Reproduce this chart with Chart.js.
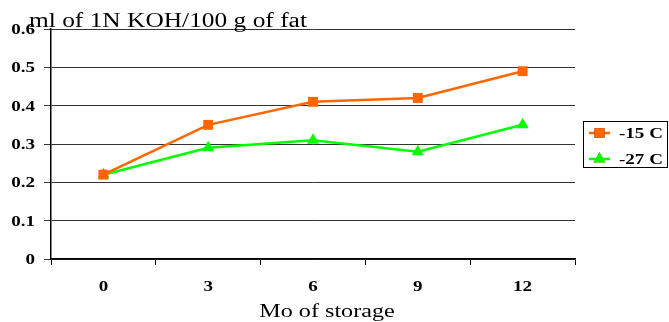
<!DOCTYPE html>
<html>
<head>
<meta charset="utf-8">
<script src="https://cdn.jsdelivr.net/npm/chart.js@4"></script>
<style>
  html, body { margin: 0; padding: 0; background: #fff; }
  #wrap { width: 669px; height: 322px; position: relative; }
</style>
</head>
<body>
<div id="wrap"><canvas id="chart"></canvas></div>
<script>
// Values
const months = ['0', '3', '6', '9', '12'];
const minus15 = [0.22, 0.35, 0.41, 0.42, 0.49];
const minus27 = [0.22, 0.29, 0.31, 0.28, 0.35];
const seriesLabels = ['-15 C', '-27 C'];
const yTicks = [0, 0.1, 0.2, 0.3, 0.4, 0.5, 0.6];
const yTitle = 'ml of 1N KOH/100 g of fat';
const xTitle = 'Mo of storage';

const serif = '"Liberation Serif", "Times New Roman", serif';
const stretch = 1.27; // the reference text is drawn wide

// draw text widened horizontally like the original picture
function wideText(ctx, text, x, y, align, font, baseline) {
    ctx.save();
    ctx.font = font;
    ctx.textBaseline = baseline || 'middle';
    ctx.fillStyle = '#000';
    const w = ctx.measureText(text).width * stretch;
    let left = x;
    if (align === 'center') left = x - w / 2;
    if (align === 'right') left = x - w;
    ctx.translate(left, y);
    ctx.scale(stretch, 1);
    ctx.textAlign = 'left';
    ctx.fillText(text, 0, 0);
    ctx.restore();
}

const extras = {
    id: 'extras',
    afterDraw(chart) {
        const ctx = chart.ctx;
        const xs = chart.scales.x;
        const ys = chart.scales.y;
        const tickFont = 'bold 15px ' + serif;

        // tick labels
        yTicks.forEach(v => {
            wideText(ctx, String(v), 35, ys.getPixelForValue(v) + 1, 'right', tickFont);
        });
        months.forEach((m, i) => {
            wideText(ctx, m, xs.getPixelForValue(i), 287, 'center', tickFont);
        });

        // axis titles
        wideText(ctx, yTitle, 29, 27, 'left', '20px ' + serif, 'alphabetic');
        wideText(ctx, xTitle, 327, 317, 'center', '19px ' + serif, 'alphabetic');

        // legend box
        ctx.save();
        const bx = 583, by = 121, bw = 84, bh = 46;
        ctx.strokeStyle = '#000';
        ctx.lineWidth = 1;
        ctx.strokeRect(bx + 0.5, by + 0.5, bw, bh);
        chart.data.datasets.forEach((ds, i) => {
            const y = by + 12 + i * 26;
            ctx.strokeStyle = ds.borderColor;
            ctx.lineWidth = 2.5;
            ctx.beginPath();
            ctx.moveTo(589, y);
            ctx.lineTo(610, y);
            ctx.stroke();
            Chart.helpers.drawPoint(ctx, {
                pointStyle: ds.pointStyle,
                radius: ds.pointRadius,
                borderWidth: 0
            }, 599.5, y);
            ctx.fillStyle = ds.backgroundColor;
            ctx.fill();
            wideText(ctx, ds.label, 619, y + 1, 'left', 'bold 15px ' + serif);
        });
        ctx.restore();
    }
};

new Chart(document.getElementById('chart'), {
    type: 'line',
    data: {
        labels: months,
        datasets: [
            {
                label: seriesLabels[0],
                data: minus15,
                borderColor: '#FF6600',
                backgroundColor: '#FF6600',
                borderWidth: 2.5,
                pointStyle: 'rect',
                pointRadius: 7,
                pointBorderWidth: 0,
                tension: 0
            },
            {
                label: seriesLabels[1],
                data: minus27,
                borderColor: '#00FF00',
                backgroundColor: '#00FF00',
                borderWidth: 2.5,
                pointStyle: 'triangle',
                pointRadius: 7,
                pointBorderWidth: 0,
                tension: 0
            }
        ]
    },
    options: {
        responsive: true,
        maintainAspectRatio: false,
        animation: false,
        layout: { padding: { top: 29, right: 94, left: 0, bottom: 0 } },
        plugins: {
            legend: { display: false },
            tooltip: { enabled: false }
        },
        scales: {
            x: {
                offset: true,
                grid: {
                    offset: true,
                    drawOnChartArea: false,
                    drawTicks: true,
                    tickLength: 6,
                    color: '#000'
                },
                border: { color: '#000', width: 1.5 },
                ticks: { display: false },
                afterFit(scale) { scale.height = 63; }
            },
            y: {
                min: 0,
                max: 0.6,
                ticks: {
                    display: false,
                    stepSize: 0.1
                },
                grid: {
                    color: '#333',
                    lineWidth: 1,
                    tickLength: 7
                },
                border: { color: '#000', width: 1.5 },
                afterFit(scale) { scale.width = 51; }
            }
        }
    },
    plugins: [extras]
});
</script>
</body>
</html>
